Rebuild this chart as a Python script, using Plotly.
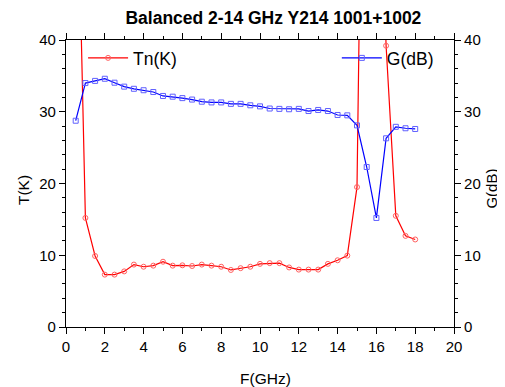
import plotly.graph_objects as go

freq = [0.5, 1.0, 1.5, 2.0, 2.5, 3.0, 3.5, 4.0, 4.5, 5.0, 5.5, 6.0, 6.5, 7.0, 7.5, 8.0, 8.5, 9.0,
        9.5, 10.0, 10.5, 11.0, 11.5, 12.0, 12.5, 13.0, 13.5, 14.0, 14.5, 15.0, 15.5, 16.0, 16.5,
        17.0, 17.5, 18.0]
tn_k = [75.0, 15.2, 9.9, 7.3, 7.3, 7.75, 8.7, 8.4, 8.55, 9.1, 8.55, 8.6, 8.5, 8.7, 8.55, 8.4, 7.95, 8.2,
        8.4, 8.8, 8.9, 8.9, 8.3, 8.0, 8.0, 8.0, 8.8, 9.3, 9.95, 19.5, 120.0, 80.0, 39.2,
        15.5, 12.7, 12.2]
g_db = [28.75, 34.0, 34.3, 34.6, 34.05, 33.5, 33.2, 33.0, 32.75, 32.2, 32.1, 31.9, 31.7, 31.4, 31.3, 31.3, 31.1, 31.1,
        30.9, 30.75, 30.45, 30.4, 30.35, 30.4, 30.1, 30.25, 30.1, 29.55, 29.5, 28.1, 22.3, 15.2, 26.3,
        27.9, 27.7, 27.6]

FONT = "Liberation Sans, Arial, sans-serif"

fig = go.Figure()
fig.add_trace(go.Scatter(
    x=freq, y=tn_k, mode="lines+markers", name="Tn(K)", showlegend=True,
    line=dict(color="#ff0000", width=1.2),
    marker=dict(symbol="circle-open", size=5, color="#ff6060", line=dict(width=1)),
    legend="legend", yaxis="y"))
fig.add_trace(go.Scatter(
    x=freq, y=g_db, mode="lines+markers", name="G(dB)", showlegend=True,
    line=dict(color="#0000ff", width=1.2),
    marker=dict(symbol="square-open", size=5, color="#6060ff", line=dict(width=1)),
    legend="legend2", yaxis="y2"))

axis_common = dict(showline=True, linecolor="black", linewidth=1.2, ticks="outside",
                   ticklen=6, tickwidth=1, tickcolor="black", showgrid=False, zeroline=False,
                   automargin=False,
                   tickfont=dict(size=15, color="black", family=FONT))

# the page body adds an 8px offset; the figure is sized to compensate
fig.update_layout(
    width=497, height=379,
    margin=dict(l=58, r=51, t=32, b=60),
    paper_bgcolor="white", plot_bgcolor="white",
    font=dict(family=FONT, color="black"),
    showlegend=True,
    title=dict(text="<b>Balanced 2-14 GHz Y214 1001+1002</b>", x=0.534, xanchor="center",
               y=0.975, yref="container", yanchor="middle", font=dict(size=17.5, family=FONT, color="black")),
    xaxis=dict(range=[0, 20], dtick=2, mirror="ticks",
               minor=dict(dtick=1, ticks="outside", ticklen=3, tickcolor="black"),
               **axis_common),
    yaxis=dict(range=[0, 40], dtick=10,
               minor=dict(dtick=2, ticks="outside", ticklen=3, tickcolor="black"),
               **axis_common),
    yaxis2=dict(range=[0, 40], dtick=10, overlaying="y", side="right",
                minor=dict(dtick=2, ticks="outside", ticklen=3, tickcolor="black"),
                **axis_common),
    legend=dict(x=0.044, y=1.0, xanchor="left", yanchor="top", bgcolor="rgba(0,0,0,0)",
                itemwidth=40, font=dict(size=17.5, family=FONT, color="black")),
    legend2=dict(x=0.698, y=1.0, xanchor="left", yanchor="top", bgcolor="rgba(0,0,0,0)",
                 itemwidth=40, font=dict(size=17.5, family=FONT, color="black")),
    annotations=[
        dict(text="F(GHz)", xref="paper", yref="paper", x=0.513, y=-0.181, xanchor="center",
             yanchor="middle", showarrow=False, font=dict(size=15.5, family=FONT, color="black")),
        dict(text="T(K)", xref="paper", yref="paper", x=-0.111, y=0.477, xanchor="center",
             yanchor="middle", textangle=-90, showarrow=False,
             font=dict(size=15.5, family=FONT, color="black")),
        dict(text="G(dB)", xref="paper", yref="paper", x=1.097, y=0.481, xanchor="center",
             yanchor="middle", textangle=-90, showarrow=False,
             font=dict(size=15, family=FONT, color="black")),
    ],
)

fig.write_html("out.html")
